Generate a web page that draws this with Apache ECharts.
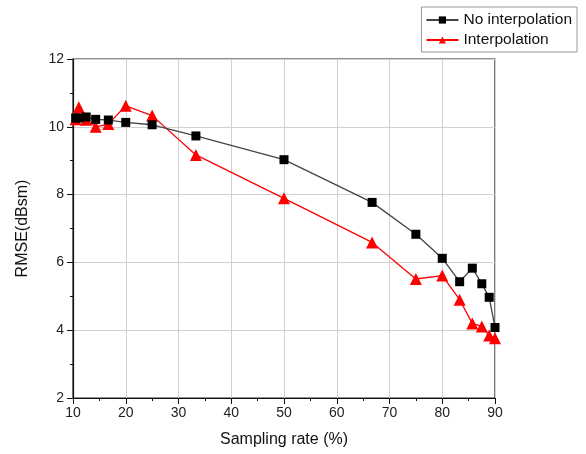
<!DOCTYPE html>
<html><head><meta charset="utf-8">
<script src="https://cdn.jsdelivr.net/npm/echarts@6/dist/echarts.min.js"></script>
<style>html,body{margin:0;padding:0;background:#fff}#c{width:586px;height:454px}</style>
</head><body><div id="c"></div>
<script>
const samplingRate = [10.5, 11.1, 12.5, 14.3, 16.7, 20, 25, 33.3, 50, 66.7, 75, 80, 83.3, 85.7, 87.5, 88.9, 90];
const noInterp = [10.26, 10.26, 10.29, 10.22, 10.2, 10.13, 10.06, 9.73, 9.03, 7.77, 6.83, 6.12, 5.43, 5.83, 5.37, 4.97, 4.08];
const interp = [10.22, 10.58, 10.21, 10.0, 10.08, 10.62, 10.33, 9.17, 7.89, 6.59, 5.51, 5.61, 4.9, 4.2, 4.11, 3.84, 3.76];
const seriesNames = ['No interpolation', 'Interpolation'];

const font = 'Liberation Sans, Arial, sans-serif';
const chart = echarts.init(document.getElementById('c'), null, {renderer: 'canvas'});
const pairs = arr => samplingRate.map((x, i) => [x, arr[i]]);
chart.setOption({
  animation: false,
  backgroundColor: '#fff',
  textStyle: {fontFamily: font},
  grid: {left: 73, right: 91, top: 59, bottom: 56, show: true, borderColor: '#222', borderWidth: 1.2, backgroundColor: 'transparent'},
  legend: {
    right: 9, top: 7,
    orient: 'vertical',
    borderColor: '#999', borderWidth: 1,
    padding: [5, 5, 4, 4],
    itemGap: 4,
    itemWidth: 32, itemHeight: 9,
    textStyle: {fontFamily: font, fontSize: 15.5, color: '#111'},
    data: seriesNames
  },
  xAxis: {
    type: 'value', min: 10, max: 90, interval: 10,
    name: 'Sampling rate (%)', nameLocation: 'middle', nameGap: 34,
    nameTextStyle: {fontFamily: font, fontSize: 16, color: '#111'},
    axisLine: {show: true, lineStyle: {color: '#111', width: 1.2}},
    axisTick: {show: true, length: 6, lineStyle: {color: '#111'}},
    minorTick: {show: true, splitNumber: 2, length: 3, lineStyle: {color: '#111'}},
    axisLabel: {fontFamily: font, fontSize: 14, color: '#222', margin: 8},
    splitLine: {show: true, lineStyle: {color: '#d0d0d0', width: 1}}
  },
  yAxis: {
    type: 'value', min: 2, max: 12, interval: 2,
    name: 'RMSE(dBsm)', nameLocation: 'middle', nameGap: 42,
    nameTextStyle: {fontFamily: font, fontSize: 16, color: '#111'},
    axisLine: {show: true, lineStyle: {color: '#111', width: 1.2}},
    axisTick: {show: true, length: 6, lineStyle: {color: '#111'}},
    minorTick: {show: true, splitNumber: 2, length: 3, lineStyle: {color: '#111'}},
    axisLabel: {fontFamily: font, fontSize: 14, color: '#222', margin: 9},
    splitLine: {show: true, lineStyle: {color: '#d0d0d0', width: 1}}
  },
  series: [
    {
      name: seriesNames[0], type: 'line', data: pairs(noInterp),
      symbol: 'rect', symbolSize: 9,
      lineStyle: {color: '#444', width: 1.3},
      itemStyle: {color: '#000'},
      z: 3
    },
    {
      name: seriesNames[1], type: 'line', data: pairs(interp),
      symbol: 'triangle', symbolSize: 12,
      lineStyle: {color: '#ff0000', width: 1.3},
      itemStyle: {color: '#ff0000'},
      z: 2
    }
  ]
});
</script></body></html>
